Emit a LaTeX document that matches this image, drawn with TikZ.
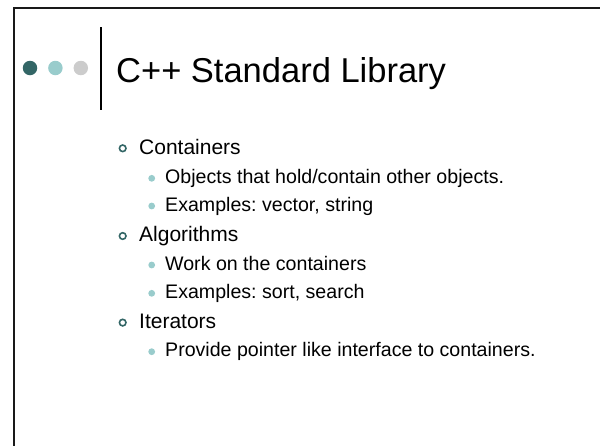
\documentclass[tikz,border=0pt]{standalone}
\usepackage{fontspec}
\setmainfont{Liberation Sans}
\usepackage{xcolor}
\usepackage{tikz}
\usetikzlibrary{positioning}
\frenchspacing

\definecolor{tealdark}{HTML}{336666}
\definecolor{teallight}{HTML}{99CCCC}
\definecolor{greydot}{HTML}{CCCCCC}

\begin{document}
\begin{tikzpicture}[x=1pt, y=-1pt]
    % Define styles
    \tikzstyle{title} = [anchor=base west, inner sep=0pt, font=\fontsize{34.5}{40}\selectfont]
    \tikzstyle{topic} = [anchor=base west, inner sep=0pt, font=\fontsize{21}{25}\selectfont]
    \tikzstyle{detail} = [anchor=base west, inner sep=0pt, font=\fontsize{19.6}{24}\selectfont]
    \tikzstyle{ring} = [circle, draw=tealdark, line width=1.6pt, minimum size=6.6pt, inner sep=0pt]
    \tikzstyle{dot} = [circle, fill=teallight, minimum size=6.8pt, inner sep=0pt]
    \tikzstyle{ball} = [circle, minimum size=14.5pt, inner sep=0pt]

    \useasboundingbox (0,0) rectangle (600,445);

    % Frame
    \draw[line width=2.6pt, black!90] (14,446) -- (14,8) -- (601,8);

    % Header
    \node (ball1) [ball, fill=tealdark] at (30,68) {};
    \node (ball2) [ball, fill=teallight, right=10.5pt of ball1] {};
    \node (ball3) [ball, fill=greydot, right=10.5pt of ball2] {};
    \draw[line width=1.8pt, black] (101,27) -- (101,110);
    \node (title) [title] at (116,82) {C++ Standard Library};

    % Containers
    \node (cont) [topic] at (139,154) {Containers};
    \node (contb) [ring] at (122.7,148.3) {};
    \node (hold) [detail] at (165,183.3) {Objects that hold/contain other objects.};
    \node (holdb) [dot] at (151.7,178.3) {};
    \node (vec) [detail] at (165,211) {Examples: vector, string};
    \node (vecb) [dot] at (151.7,206) {};

    % Algorithms
    \node (algo) [topic] at (139,241.7) {Algorithms};
    \node (algob) [ring] at (122.7,236) {};
    \node (work) [detail] at (165,270) {Work on the containers};
    \node (workb) [dot] at (151.7,265) {};
    \node (sort) [detail] at (165,298.3) {Examples: sort, search};
    \node (sortb) [dot] at (151.7,293.3) {};

    % Iterators
    \node (iter) [topic] at (139,328.3) {Iterators};
    \node (iterb) [ring] at (122.7,322.6) {};
    \node (ptr) [detail] at (165,356.7) {Provide pointer like interface to containers.};
    \node (ptrb) [dot] at (151.7,351.7) {};
\end{tikzpicture}
\end{document}
